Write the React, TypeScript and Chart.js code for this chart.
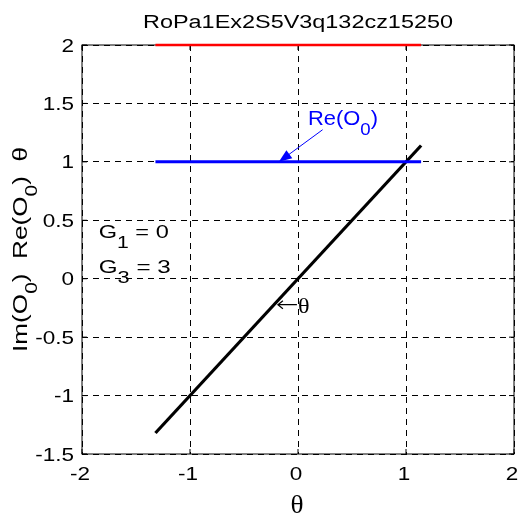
import { useEffect, useRef } from "react";
import { Chart, registerables } from "chart.js";

Chart.register(...registerables);

// ---- data ----
const THETA = [-1.32, 1.14];
const THETA_Y = [-1.32, 1.14];
const IM_O0 = [2, 2];
const RE_O0 = [1, 1];
const X_TICKS = [-2, -1, 0, 1, 2];
const Y_TICKS = [-1.5, -1, -0.5, 0, 0.5, 1, 1.5, 2];
const TITLE = "RoPa1Ex2S5V3q132cz15250";
const G1 = 0;
const G3 = 3;

const SANS = '"Liberation Sans", Arial, Helvetica, sans-serif';
const SERIF = '"Liberation Serif", "Times New Roman", serif';

type Seg = { t: string; sub?: boolean };

function drawRich(
  ctx: CanvasRenderingContext2D,
  segs: Seg[],
  x: number,
  y: number,
  size: number,
  fam: string,
  color: string,
  opts: { align?: "left" | "center" | "right"; sx?: number; width?: number; rotate?: number; subScale?: number; subDrop?: number }
) {
  const subScale = opts.subScale ?? 0.8;
  const subDrop = opts.subDrop ?? 0.5;
  ctx.save();
  ctx.translate(x, y);
  if (opts.rotate) ctx.rotate(opts.rotate);
  const widths: number[] = [];
  let total = 0;
  for (const s of segs) {
    ctx.font = `${s.sub ? size * subScale : size}px ${fam}`;
    const w = ctx.measureText(s.t).width;
    widths.push(w);
    total += w;
  }
  const sx = opts.width ? opts.width / total : opts.sx ?? 1;
  ctx.scale(sx, 1);
  const align = opts.align ?? "left";
  let cx = align === "left" ? 0 : align === "center" ? -total / 2 : -total;
  ctx.fillStyle = color;
  ctx.textAlign = "left";
  ctx.textBaseline = "alphabetic";
  segs.forEach((s, i) => {
    ctx.font = `${s.sub ? size * subScale : size}px ${fam}`;
    ctx.fillText(s.t, cx, s.sub ? size * subDrop : 0);
    cx += widths[i];
  });
  ctx.restore();
}

const decorPlugin = {
  id: "decor",
  beforeDatasetsDraw(chart: any) {
    const { ctx, chartArea: a, scales } = chart;
    const xs = scales.x;
    const ys = scales.y;
    ctx.save();
    ctx.strokeStyle = "#000";
    ctx.lineWidth = 1;
    ctx.setLineDash([]);
    ctx.strokeRect(a.left, a.top, a.right - a.left, a.bottom - a.top);
    const tl = 5;
    ctx.beginPath();
    for (const v of X_TICKS) {
      const px = xs.getPixelForValue(v);
      ctx.moveTo(px, a.bottom);
      ctx.lineTo(px, a.bottom - tl);
      ctx.moveTo(px, a.top);
      ctx.lineTo(px, a.top + tl);
    }
    for (const v of Y_TICKS) {
      const py = ys.getPixelForValue(v);
      ctx.moveTo(a.left, py);
      ctx.lineTo(a.left + tl, py);
      ctx.moveTo(a.right, py);
      ctx.lineTo(a.right - tl, py);
    }
    ctx.stroke();
    ctx.restore();
  },
  afterDraw(chart: any) {
    const { ctx, chartArea: a, scales } = chart;
    const xs = scales.x;
    const ys = scales.y;
    const cxm = (a.left + a.right) / 2;
    const cym = (a.top + a.bottom) / 2;

    // tick labels
    for (const v of X_TICKS) {
      drawRich(ctx, [{ t: String(v) }], xs.getPixelForValue(v) - 2, a.bottom + 26, 18, SANS, "#000", { align: "center", sx: 1.25 });
    }
    for (const v of Y_TICKS) {
      drawRich(ctx, [{ t: String(v) }], a.left - 8, ys.getPixelForValue(v) + 6.5, 18, SANS, "#000", { align: "right", sx: 1.25 });
    }

    // title
    drawRich(ctx, [{ t: TITLE }], cxm, a.top - 17, 18, SANS, "#000", { align: "center", width: 310 });

    // x label
    drawRich(ctx, [{ t: "θ" }], cxm - 1, chart.height - 4, 26, SERIF, "#000", { align: "center", sx: 1.05 });

    // y label
    drawRich(
      ctx,
      [{ t: "Im(O" }, { t: "0", sub: true }, { t: ")  Re(O" }, { t: "0", sub: true }, { t: ")  θ" }],
      27,
      cym,
      20,
      SANS,
      "#000",
      { align: "center", width: 205, rotate: -Math.PI / 2 }
    );

    // Re(O0) annotation
    drawRich(
      ctx,
      [{ t: "Re(O" }, { t: "0", sub: true }, { t: ")" }],
      xs.getPixelForValue(0.092),
      ys.getPixelForValue(1.318),
      20,
      SANS,
      "#0000ff",
      { align: "left", width: 70, subScale: 0.85 }
    );
    // arrow
    const x0 = xs.getPixelForValue(0.228);
    const y0 = ys.getPixelForValue(1.275);
    const x1 = xs.getPixelForValue(-0.177);
    const y1 = ys.getPixelForValue(1.0);
    const ang = Math.atan2(y1 - y0, x1 - x0);
    const hl = 13;
    const hw = 5;
    ctx.save();
    ctx.strokeStyle = "#0000ff";
    ctx.fillStyle = "#0000ff";
    ctx.lineWidth = 1;
    ctx.beginPath();
    ctx.moveTo(x0, y0);
    ctx.lineTo(x1 - Math.cos(ang) * hl * 0.8, y1 - Math.sin(ang) * hl * 0.8);
    ctx.stroke();
    const bx = x1 - Math.cos(ang) * hl;
    const by = y1 - Math.sin(ang) * hl;
    ctx.beginPath();
    ctx.moveTo(x1, y1);
    ctx.lineTo(bx + Math.sin(ang) * hw, by - Math.cos(ang) * hw);
    ctx.lineTo(bx - Math.sin(ang) * hw, by + Math.cos(ang) * hw);
    ctx.closePath();
    ctx.fill();
    ctx.restore();

    // G labels
    drawRich(
      ctx,
      [{ t: "G" }, { t: "1", sub: true }, { t: " = " + G1 }],
      xs.getPixelForValue(-1.845),
      ys.getPixelForValue(0.351),
      19,
      SANS,
      "#000",
      { align: "left", width: 70, subScale: 0.9, subDrop: 0.52 }
    );
    drawRich(
      ctx,
      [{ t: "G" }, { t: "3", sub: true }, { t: " = " + G3 }],
      xs.getPixelForValue(-1.845),
      ys.getPixelForValue(0.052),
      19,
      SANS,
      "#000",
      { align: "left", width: 72, subScale: 0.9, subDrop: 0.52 }
    );

    // ←θ  (text arrow drawn as a stroke, then θ)
    const ax = xs.getPixelForValue(-0.186);
    const ay = ys.getPixelForValue(-0.222);
    ctx.save();
    ctx.strokeStyle = "#000";
    ctx.lineWidth = 1.2;
    ctx.beginPath();
    ctx.moveTo(ax + 19, ay);
    ctx.lineTo(ax, ay);
    ctx.moveTo(ax + 5, ay - 4);
    ctx.lineTo(ax, ay);
    ctx.lineTo(ax + 5, ay + 4);
    ctx.stroke();
    ctx.restore();
    drawRich(ctx, [{ t: "θ" }], ax + 20, ys.getPixelForValue(-0.29), 22, SERIF, "#000", { align: "left", sx: 1.1 });
  },
};

export default function App() {
  const ref = useRef<HTMLCanvasElement | null>(null);
  useEffect(() => {
    if (!ref.current) return;
    const mk = (xv: number[], yv: number[]) => xv.map((x, i) => ({ x, y: yv[i] }));
    const chart = new Chart(ref.current, {
      type: "scatter",
      data: {
        datasets: [
          { label: "Im(O0)", data: mk(THETA, IM_O0), showLine: true, borderColor: "#ff0000", borderWidth: 2.5, pointRadius: 0, clip: false } as any,
          { label: "Re(O0)", data: mk(THETA, RE_O0), showLine: true, borderColor: "#0000ff", borderWidth: 3, pointRadius: 0, clip: false } as any,
          { label: "θ", data: mk(THETA, THETA_Y), showLine: true, borderColor: "#000000", borderWidth: 3.2, pointRadius: 0, clip: false } as any,
        ],
      },
      options: {
        responsive: false,
        animation: false,
        events: [],
        layout: { padding: { top: 45, right: 7, left: 0, bottom: 0 } },
        plugins: { legend: { display: false }, tooltip: { enabled: false }, title: { display: false } },
        scales: {
          x: {
            type: "linear",
            min: -2,
            max: 2,
            afterBuildTicks: (s: any) => {
              s.ticks = X_TICKS.map((v) => ({ value: v }));
            },
            ticks: { display: false },
            grid: { color: "#000", lineWidth: 1, drawTicks: false },
            border: { display: false, dash: [6, 5] },
            afterFit: (s: any) => {
              s.height = 63;
            },
          },
          y: {
            type: "linear",
            min: -1.5,
            max: 2,
            afterBuildTicks: (s: any) => {
              s.ticks = Y_TICKS.map((v) => ({ value: v }));
            },
            ticks: { display: false },
            grid: { color: "#000", lineWidth: 1, drawTicks: false },
            border: { display: false, dash: [6, 5] },
            afterFit: (s: any) => {
              s.width = 82;
            },
          },
        },
      } as any,
      plugins: [decorPlugin],
    });
    return () => chart.destroy();
  }, []);
  return (
    <div style={{ position: "absolute", left: 0, top: 0, width: 521, height: 517, background: "#fff" }}>
      <canvas ref={ref} width={521} height={517} style={{ display: "block" }} />
    </div>
  );
}
